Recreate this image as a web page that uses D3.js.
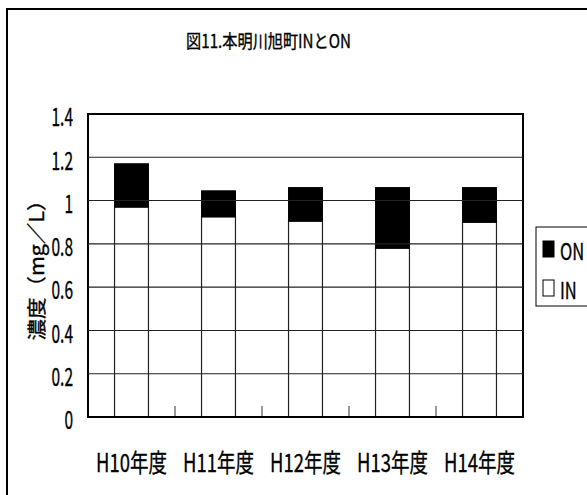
<!DOCTYPE html>
<html>
<head>
<meta charset="utf-8">
<script src="https://cdn.jsdelivr.net/npm/d3@7/dist/d3.min.js"></script>
<style>
  html, body { margin: 0; padding: 0; background: #fff; }
  svg { display: block; }
  text { font-family: "Noto Sans CJK JP", "Noto Sans", sans-serif; fill: #000; stroke: #000; stroke-width: 0.35px; }
</style>
</head>
<body>
<script>
// 本明川旭町 IN / ON concentrations (mg/L), stacked per fiscal year
const categories = ["H10年度", "H11年度", "H12年度", "H13年度", "H14年度"];
const inValues = [0.97, 0.925, 0.905, 0.78, 0.90];
const onValues = [0.20, 0.12, 0.155, 0.28, 0.16];
const yTicks = [0, 0.2, 0.4, 0.6, 0.8, 1.0, 1.2, 1.4];
const yTickLabels = ["0", "0.2", "0.4", "0.6", "0.8", "1", "1.2", "1.4"];
const seriesNames = ["ON", "IN"];
const titleText = "図11.本明川旭町INとON";
const yTitle = "濃度（mg／L）";

const W = 587, H = 495;
const plot = { left: 88, right: 523, top: 114, bottom: 417 };

const svg = d3.select("body").append("svg").attr("width", W).attr("height", H);

// outer chart frame (runs off the right and bottom edge)
svg.append("rect")
  .attr("x", 7).attr("y", 9).attr("width", 620).attr("height", 488)
  .attr("fill", "none").attr("stroke", "#000").attr("stroke-width", 2);

// narrow text helper: horizontal compression like a condensed Gothic face
function narrowText(g, x, y, str, size, sx, anchor) {
  return g.append("text")
    .attr("transform", `translate(${x},${y}) scale(${sx},1)`)
    .attr("text-anchor", anchor || "middle")
    .attr("dominant-baseline", "central")
    .style("font-size", size + "px")
    .text(str);
}

// title
narrowText(svg, 268.5, 40, titleText, 18.5, 0.82);

const x = d3.scaleBand()
  .domain(categories)
  .range([plot.left, plot.right])
  .paddingInner(0.61)
  .paddingOuter(0.305);

const y = d3.scaleLinear().domain([0, 1.4]).range([plot.bottom, plot.top]);

// stacked bars: IN at the bottom (outline only), ON on top (solid black)
const inBars = svg.append("g");
inBars.selectAll("rect")
  .data(categories)
  .join("rect")
  .attr("x", d => x(d))
  .attr("width", x.bandwidth())
  .attr("y", (d, i) => y(inValues[i]))
  .attr("height", (d, i) => y(0) - y(inValues[i]))
  .attr("fill", "none").attr("stroke", "#222").attr("stroke-width", 1.2);

const onBars = svg.append("g");
onBars.selectAll("rect")
  .data(categories)
  .join("rect")
  .attr("x", d => x(d))
  .attr("width", x.bandwidth())
  .attr("y", (d, i) => y(inValues[i] + onValues[i]))
  .attr("height", (d, i) => y(inValues[i]) - y(inValues[i] + onValues[i]))
  .attr("fill", "#000").attr("stroke", "#000").attr("stroke-width", 1);

// category boundary ticks pointing up from the baseline
const step = x.step();
svg.append("g")
  .selectAll("line")
  .data(d3.range(1, categories.length))
  .join("line")
  .attr("x1", k => plot.left + k * step).attr("x2", k => plot.left + k * step)
  .attr("y1", plot.bottom).attr("y2", plot.bottom - 11)
  .attr("stroke", "#333").attr("stroke-width", 1);

// plot area border
svg.append("rect")
  .attr("x", plot.left).attr("y", plot.top)
  .attr("width", plot.right - plot.left).attr("height", plot.bottom - plot.top)
  .attr("fill", "none").attr("stroke", "#000").attr("stroke-width", 2);

// y axis labels
const yAxis = d3.axisLeft(y)
  .tickValues(yTicks)
  .tickSize(0)
  .tickFormat((d, i) => yTickLabels[i]);
const yg = svg.append("g").attr("transform", `translate(${plot.left},0)`).call(yAxis);
yg.select(".domain").remove();
yg.selectAll(".tick text")
  .attr("x", null).attr("dy", null)
  .attr("text-anchor", "end")
  .attr("dominant-baseline", "central")
  .attr("transform", "translate(-15,1) scale(0.62,1)")
  .style("font-size", "25px")
  .style("font-family", "\"Noto Sans CJK JP\", sans-serif")
  .attr("fill", "#000");

// x axis category labels
const xAxis = d3.axisBottom(x).tickSize(0);
const xg = svg.append("g").attr("transform", `translate(0,${plot.bottom})`).call(xAxis);
xg.select(".domain").remove();
xg.selectAll(".tick text")
  .attr("y", null).attr("dy", null)
  .attr("dominant-baseline", "central")
  .attr("transform", "translate(0,44) scale(0.74,1)")
  .style("font-size", "25px")
  .style("font-family", "\"Noto Sans CJK JP\", sans-serif")
  .attr("fill", "#000");

// y axis title, rotated
svg.append("text")
  .attr("transform", "translate(35,265) rotate(-90) scale(1.1,1)")
  .attr("text-anchor", "middle")
  .attr("dominant-baseline", "central")
  .style("font-size", "19.5px")
  .text(yTitle);

// legend
const lg = svg.append("g");
lg.append("rect")
  .attr("x", 536).attr("y", 227).attr("width", 80).attr("height", 79)
  .attr("fill", "#fff").attr("stroke", "#000").attr("stroke-width", 1);
const legendY = [249, 288];
seriesNames.forEach((name, i) => {
  lg.append("rect")
    .attr("x", 543).attr("y", legendY[i] - 8).attr("width", 11).attr("height", 16)
    .attr("fill", name === "ON" ? "#000" : "#fff")
    .attr("stroke", "#000").attr("stroke-width", 1);
  narrowText(lg, 560, legendY[i] + 1, name, 23, 0.72, "start");
});

// horizontal gridlines, drawn last so they run through the outlined IN bars
svg.append("g")
  .selectAll("line")
  .data(yTicks.filter(v => v > 0 && v < 1.4))
  .join("line")
  .attr("x1", plot.left).attr("x2", plot.right)
  .attr("y1", d => y(d)).attr("y2", d => y(d))
  .attr("stroke", "#222").attr("stroke-width", 1.1);
</script>
</body>
</html>
